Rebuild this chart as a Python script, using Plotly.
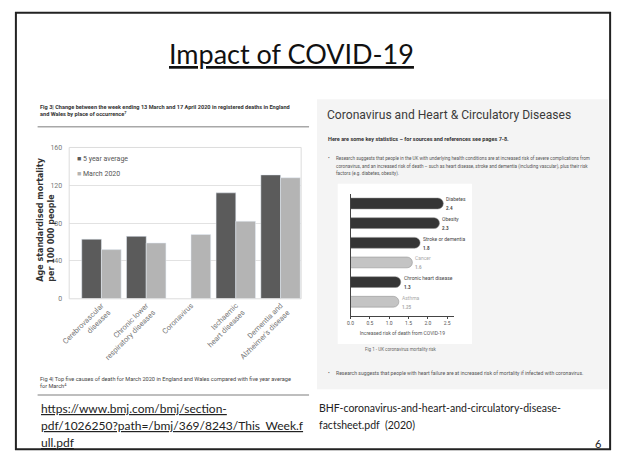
import plotly.graph_objects as go

W, H = 619, 461


def px(x):
    return x / W


def py(y):
    return 1 - y / H


# ---------------- data ----------------
causes = ["Cerebrovascular<br>diseases", "Chronic lower<br>respiratory diseases", "Coronavirus",
          "Ischaemic<br>heart diseases", "Dementia and<br>Alzheimer's disease"]
five_year_avg = [63, 66, None, 112, 131]
march_2020 = [52, 59, 68, 82, 128]
series_names = ["5 year average", "March 2020"]
mort_ticks = [0, 40, 80, 120, 160]

conditions = ["Diabetes", "Obesity", "Stroke or dementia", "Cancer", "Chronic heart disease", "Asthma"]
risk = [2.4, 2.3, 1.8, 1.6, 1.3, 1.25]
risk_labels = ["2.4", "2.3", "1.8", "1.6", "1.3", "1.25"]
highlighted = [True, True, True, False, True, False]
risk_ticks = [0.0, 0.5, 1.0, 1.5, 2.0, 2.5]

FIG = "Roboto, sans-serif"
SLIDE = "Lato, Open Sans, sans-serif"
DARK, LIGHT = "#5b5b5b", "#b4b4b4"

fig = go.Figure()

fig.add_bar(x=causes, y=five_year_avg, name=series_names[0], marker_color=DARK,
            xaxis="x", yaxis="y", showlegend=False)
fig.add_bar(x=causes, y=march_2020, name=series_names[1], marker_color=LIGHT,
            xaxis="x", yaxis="y", showlegend=False)

bar_colors = ["#353535" if h else "#c4c4c4" for h in highlighted]
fig.add_bar(x=risk, y=conditions, orientation="h", xaxis="x2", yaxis="y2", width=0.55,
            marker=dict(color=bar_colors, cornerradius=6, line=dict(color="#888", width=0.5)),
            showlegend=False)

annotations = []
for c, v, lab, h in zip(conditions, risk, risk_labels, highlighted):
    col = "#444" if h else "#aaa"
    annotations.append(dict(x=v, y=c, xref="x2", yref="y2", text=c, showarrow=False,
                            xanchor="left", yanchor="bottom", xshift=1, yshift=-1,
                            font=dict(size=5, color=col, family=FIG)))
    annotations.append(dict(x=v, y=c, xref="x2", yref="y2", text="<b>" + lab + "</b>", showarrow=False,
                            xanchor="left", yanchor="top", xshift=1, yshift=-1,
                            font=dict(size=4.5, color=col, family=FIG)))


def txt(x, y, text, size, color="#333", family=FIG, xanchor="left", yanchor="middle", **kw):
    annotations.append(dict(x=px(x), y=py(y), xref="paper", yref="paper", text=text, showarrow=False,
                            xanchor=xanchor, yanchor=yanchor, align="left",
                            font=dict(size=size, color=color, family=family), **kw))


# legend inside the left chart
for (name, col), yy in zip(zip(series_names, [DARK, LIGHT]), [158, 173]):
    txt(68, yy, "<span style='color:%s'>■</span> %s" % (col, name), 7, color="#555")

# slide title
txt(287, 50, "<u>Impact of COVID-19</u>", 27, color="#111", family=SLIDE, xanchor="center")

# left figure captions
txt(30, 108, "<b>Fig 3| Change between the week ending 13 March and 17 April 2020 in registered deaths in England"
             "<br>and Wales by place of occurrence<sup>7</sup></b>", 5.6, color="#333")
txt(38, 220, "<b>Age standardised mortality<br>per 100 000 people</b>", 8, color="#333",
    family="DejaVu Sans, Verdana, sans-serif", xanchor="center", textangle=-90)
txt(30, 385, "Fig 4| Top five causes of death for March 2020 in England and Wales compared with five year average"
             "<br>for March<sup>4</sup>", 5.6, color="#444")

# links
txt(31, 412, "<u>https://www.bmj.com/bmj/section-</u>", 12, color="#222", family=SLIDE)
txt(31, 429, "<u>pdf/1026250?path=/bmj/369/8243/This_Week.f</u>", 12, color="#222", family=SLIDE)
txt(31, 446, "<u>ull.pdf</u>", 12, color="#222", family=SLIDE)

# right figure texts
txt(321, 113, "Coronavirus and Heart &amp; Circulatory Diseases", 12.1, color="#3a3a3a")
txt(322, 137, "<b>Here are some key statistics – for sources and references see pages 7-8.</b>", 5.5, color="#333")
txt(322, 157, "•", 5, color="#555")
txt(330, 157, "Research suggests that people in the UK with underlying health conditions are at increased risk of severe complications from", 4.6, color="#555")
txt(330, 165, "coronavirus, and an increased risk of death – such as heart disease, stroke and dementia (including vascular), plus their risk", 4.6, color="#555")
txt(330, 173, "factors (e.g. diabetes, obesity).", 4.6, color="#555")
txt(360, 352, "Fig 1 - UK coronavirus mortality risk", 4.5, color="#666")
txt(322, 376, "•", 5, color="#555")
txt(330, 376, "Research suggests that people with heart failure are at increased risk of mortality if infected with coronavirus.", 5.1, color="#555")

txt(313, 411, "BHF-coronavirus-and-heart-and-circulatory-disease-", 10.5, color="#222", family=SLIDE)
txt(313, 428, "factsheet.pdf  (2020)", 10.5, color="#222", family=SLIDE)
txt(598, 447, "6", 11, color="#222", family=SLIDE, xanchor="center")

shapes = [
    # slide border
    dict(type="rect", xref="paper", yref="paper", x0=px(8), x1=px(610), y0=py(453), y1=py(9),
         line=dict(color="#222", width=2)),
    # right panel background
    dict(type="rect", xref="paper", yref="paper", x0=px(313), x1=px(608), y0=py(392), y1=py(97),
         fillcolor="#f4f4f4", line=dict(width=0), layer="below"),
    dict(type="rect", xref="paper", yref="paper", x0=px(334), x1=px(470), y0=py(346), y1=py(183),
         fillcolor="#ffffff", line=dict(width=0), layer="below"),
    # rules
    dict(type="line", xref="paper", yref="paper", x0=px(30), x1=px(305), y0=py(125), y1=py(125),
         line=dict(color="#a8a8a8", width=1.5)),
    dict(type="line", xref="paper", yref="paper", x0=px(30), x1=px(305), y0=py(398), y1=py(398),
         line=dict(color="#a8a8a8", width=1.5)),
    # left plot frame
    dict(type="rect", xref="x domain", yref="y domain", x0=0, x1=1, y0=0, y1=1,
         line=dict(color="#dcdcdc", width=1)),
]

fig.update_layout(
    width=W, height=H,
    margin=dict(l=0, r=0, t=0, b=0),
    paper_bgcolor="white", plot_bgcolor="rgba(0,0,0,0)",
    barmode="group", bargap=0.12, bargroupgap=0,
    showlegend=False,
    xaxis=dict(domain=[px(62), px(297)], range=[-0.72, 4.46], type="category", anchor="y",
               showline=False, ticks="", tickangle=-45, showgrid=False,
               tickfont=dict(size=7.5, color="#777", family=FIG)),
    yaxis=dict(domain=[py(300), py(146)], range=[0, 160], tickvals=mort_ticks, anchor="x",
               showgrid=True, gridcolor="#e2e2e2", zeroline=False, ticks="", ticklabelstandoff=6,
               tickfont=dict(size=7, color="#777", family=FIG)),
    xaxis2=dict(domain=[px(347), px(452)], range=[0, 2.68], tickvals=risk_ticks, tickformat=".1f",
                anchor="y2", showline=True, linecolor="#444", linewidth=1, ticks="outside", ticklen=2,
                tickcolor="#444", showgrid=False, zeroline=False,
                tickfont=dict(size=5, color="#555", family=FIG),
                title=dict(text="Increased risk of death from COVID-19", standoff=6,
                           font=dict(size=5, color="#555", family=FIG))),
    yaxis2=dict(domain=[py(318), py(193)], range=[5.75, -0.5], type="category", anchor="x2",
                showline=True, linecolor="#444", linewidth=1, showticklabels=False, ticks="",
                showgrid=False, zeroline=False),
    annotations=annotations,
    shapes=shapes,
)

fig.write_html("out.html")
